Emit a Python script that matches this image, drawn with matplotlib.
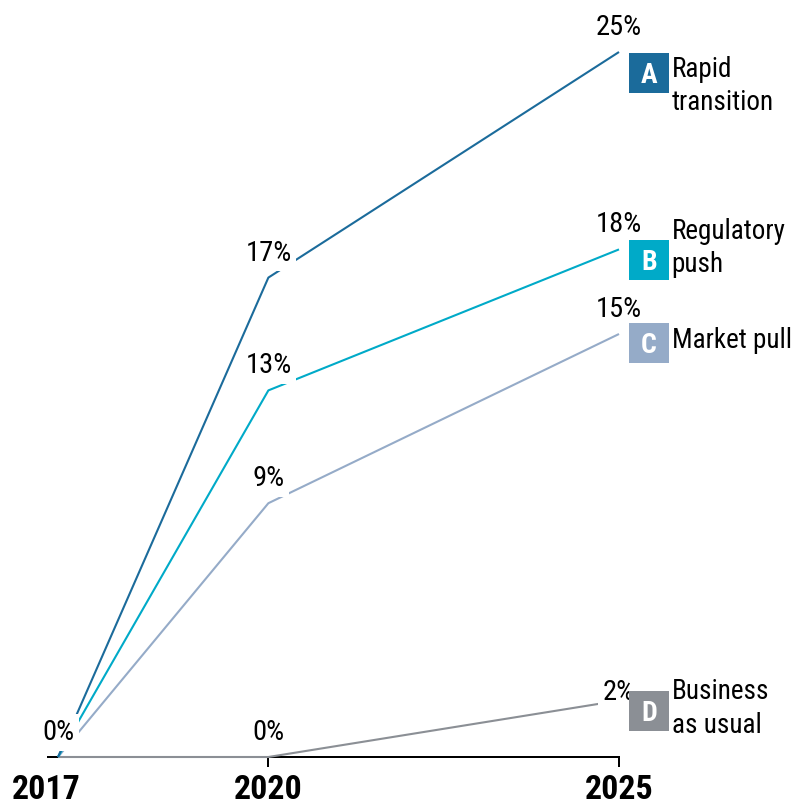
import matplotlib.pyplot as plt
import matplotlib.transforms as mtransforms
from matplotlib.patches import Rectangle

# Share of sales by scenario (%)
years = [2017, 2020, 2025]
year_labels = ['2017', '2020', '2025']
rapid_transition = [0, 17, 25]
regulatory_push = [0, 13, 18]
market_pull = [0, 9, 15]
business_as_usual = [0, 0, 2]

letters = ['A', 'B', 'C', 'D']
names = ['Rapid\ntransition', 'Regulatory\npush', 'Market pull', 'Business\nas usual']
colors = ['#1b6b9b', '#00aac8', '#95abc8', '#8b8f95']

# key placement, pixels below the end point: (box centre, baseline of last text line)
key_offsets = [(21, 58), (11, 23), (9, 14), (10, 32)]

plt.rcParams['font.family'] = ['Roboto Condensed', 'Archivo Narrow', 'Liberation Sans', 'DejaVu Sans']

PX = 72 / 100  # points per pixel

fig = plt.figure(figsize=(7.91, 8.07), dpi=100)
ax = fig.add_axes([48 / 791, 50 / 807, 571 / 791, 705 / 807])
ax.set_xlim(2017 - 10 / 70.1, 2025)
ax.set_ylim(0, 25)

series = [rapid_transition, regulatory_push, market_pull, business_as_usual]

# lines, business as usual underneath
for vals, col, z in zip(series, colors, [3.4, 3.3, 3.2, 3.1]):
    ax.plot(years, vals, color=col, lw=1.5, clip_on=False, zorder=z,
            solid_capstyle='butt')


def value_label(x, y, dy=17):
    ax.annotate(f'{y:g}%', xy=(x, y), xytext=(0, dy * PX), textcoords='offset points',
                ha='center', va='baseline', fontsize=20.5, zorder=4,
                annotation_clip=False,
                bbox=dict(boxstyle='square,pad=0.16', fc='white', ec='none'))


# one shared 0% at the start
value_label(years[0], rapid_transition[0])
for i, vals in enumerate(series):
    value_label(years[1], vals[1])
    value_label(years[2], vals[2], dy=1 if i == 3 else 17)

# scenario keys at the right end
for vals, letter, name, col, (box_off, txt_off) in zip(series, letters, names, colors, key_offsets):
    trans = fig.dpi_scale_trans + mtransforms.ScaledTranslation(years[-1], vals[-1], ax.transData)
    ax.add_patch(Rectangle((0.10, -(box_off + 20) / 100), 0.40, 0.40, transform=trans,
                           facecolor=col, edgecolor='none', clip_on=False, zorder=5))
    ax.text(0.30, -(box_off + 10) / 100, letter, transform=trans, ha='center', va='baseline',
            color='white', fontsize=20, fontweight='bold', zorder=6)
    ax.text(0.525, -txt_off / 100, name, transform=trans, ha='left', va='baseline',
            fontsize=19.5, zorder=6, linespacing=1.3)

ax.set_xticks(years)
ax.set_xticklabels(year_labels, fontsize=24.5, fontweight='bold')
ax.set_yticks([])
ax.tick_params(axis='x', length=10 * PX, width=2 * PX, pad=5, color='black')
ax.xaxis.get_major_ticks()[0].tick1line.set_visible(False)
first = ax.get_xticklabels()[0]
first.set_transform(first.get_transform() + mtransforms.ScaledTranslation(-0.12, 0, fig.dpi_scale_trans))

for side in ['top', 'left', 'right']:
    ax.spines[side].set_visible(False)
ax.spines['bottom'].set_linewidth(2 * PX)
ax.spines['bottom'].set_zorder(2.5)
ax.patch.set_visible(False)

fig.savefig('out.png', dpi=100)
